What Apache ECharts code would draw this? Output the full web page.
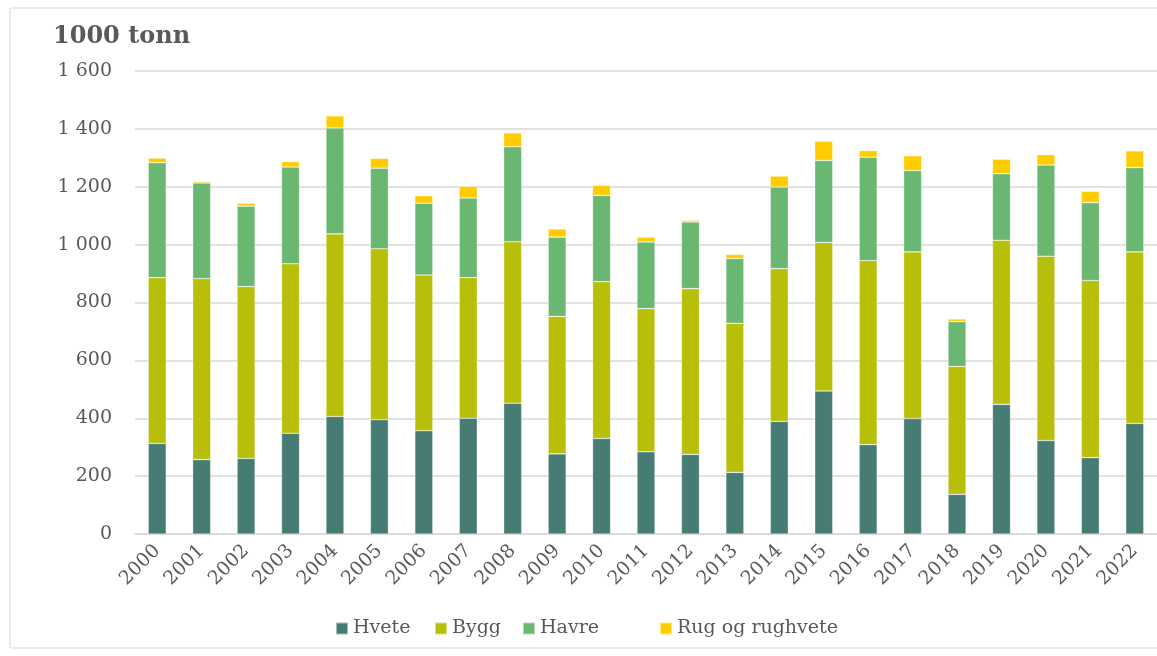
<!DOCTYPE html>
<html>
<head>
<meta charset="utf-8">
<script src="https://cdn.jsdelivr.net/npm/echarts@6/dist/echarts.min.js"></script>
<style>
  html, body { margin: 0; padding: 0; background: #fff; }
  #chartMain { width: 1157px; height: 656px; }
</style>
</head>
<body>
<div id="chartMain"></div>
<script>
// årstall
var years = ['2000','2001','2002','2003','2004','2005','2006','2007','2008','2009','2010',
             '2011','2012','2013','2014','2015','2016','2017','2018','2019','2020','2021','2022'];

// 1000 tonn, lest av figuren
var hvete = [313,257,261,348,406,395,357,400,452,277,330,284,275,213,389,494,309,399,137,448,323,264,382];
var bygg  = [573,626,594,586,631,591,538,486,558,475,542,495,573,515,528,513,636,576,442,567,637,612,593];
var havre = [397,330,278,334,366,278,248,275,328,274,298,230,230,224,282,284,357,281,155,230,315,269,291];
var rug   = [16,5,10,19,42,34,26,40,48,28,35,17,6,14,38,66,23,51,9,50,36,39,58];

var yTicks = [0, 200, 400, 600, 800, 1000, 1200, 1400, 1600];

var serif = 'Georgia, "DejaVu Serif", "Liberation Serif", serif';
var textColor = '#595959';

function fmt(v) {
  // tusenskille med mellomrom
  return String(v).replace(/\B(?=(\d{3})+(?!\d))/g, ' ');
}

function bar(name, data, color) {
  return {
    name: name,
    type: 'bar',
    stack: 'total',
    barWidth: 18,
    data: data,
    itemStyle: { color: color, borderColor: 'rgba(255,255,255,0.5)', borderWidth: 0.6 },
    emphasis: { disabled: true }
  };
}

// en legend per serie, slik at plasseringen blir som i Excel
function legendItem(name, left) {
  return {
    left: left,
    top: 614,
    itemWidth: 12,
    itemHeight: 12,
    icon: 'rect',
    textStyle: { fontFamily: serif, fontSize: 19, color: textColor },
    data: [name]
  };
}

var myChart = echarts.init(document.getElementById('chartMain'));

var option = {
  animation: false,
  backgroundColor: '#fff',
  textStyle: { fontFamily: serif },
  graphic: [{
    type: 'rect',
    shape: { x: 10, y: 8, width: 1160, height: 640 },
    style: { fill: 'none', stroke: '#d9d9d9', lineWidth: 1 },
    silent: true
  }],
  title: {
    text: '1000 tonn',
    left: 48,
    top: 20,
    textStyle: { fontFamily: serif, fontWeight: 'bold', fontSize: 24, color: textColor }
  },
  legend: [
    legendItem('Hvete', 330),
    legendItem('Bygg', 429),
    legendItem('Havre', 517),
    legendItem('Rug og rughvete', 654)
  ],
  grid: { left: 135, top: 71, width: 1026, height: 463 },
  xAxis: {
    type: 'category',
    data: years,
    axisTick: { show: false },
    axisLine: { lineStyle: { color: '#d9d9d9', width: 1.5 } },
    axisLabel: { rotate: 45, margin: 14, fontSize: 19, color: textColor, fontFamily: serif }
  },
  yAxis: {
    type: 'value',
    min: yTicks[0],
    max: yTicks[yTicks.length - 1],
    interval: 200,
    axisLine: { show: false },
    axisTick: { show: false },
    splitLine: { lineStyle: { color: '#d9d9d9', width: 1.5 } },
    axisLabel: { margin: 23, fontSize: 19, color: textColor, fontFamily: serif, formatter: fmt }
  },
  series: [
    bar('Hvete', hvete, '#467C73'),
    bar('Bygg', bygg, '#B8BF08'),
    bar('Havre', havre, '#6AB771'),
    bar('Rug og rughvete', rug, '#FFCC00')
  ]
};

myChart.setOption(option);
</script>
</body>
</html>
